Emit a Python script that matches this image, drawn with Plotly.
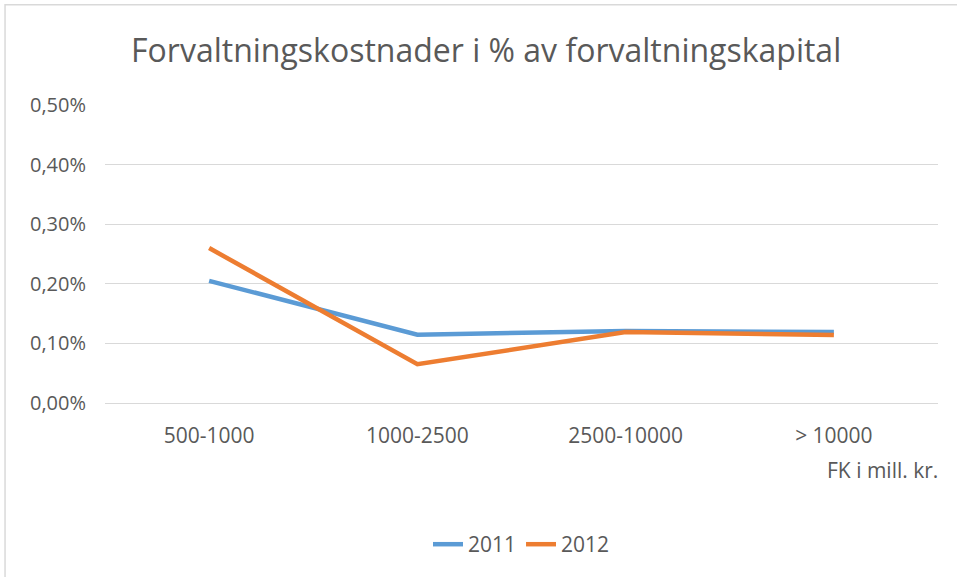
import plotly.graph_objects as go

kategorier = ["500-1000", "1000-2500", "2500-10000", "> 10000"]
ar_2011 = [0.00205, 0.001145, 0.00121, 0.00119]
ar_2012 = [0.0026, 0.00065, 0.00119, 0.00114]

tekst = "#595959"
font = "Open Sans"

fig = go.Figure()
fig.add_trace(go.Scatter(x=kategorier, y=ar_2011, name="2011", mode="lines",
                         line=dict(color="#5B9BD5", width=4.5)))
fig.add_trace(go.Scatter(x=kategorier, y=ar_2012, name="2012", mode="lines",
                         line=dict(color="#ED7D31", width=4.5)))

fig.update_layout(
    width=957, height=577,
    paper_bgcolor="white", plot_bgcolor="white",
    separators=",.",
    margin=dict(l=105, r=19, t=105, b=174),
    font=dict(family=font, color=tekst, size=20),
    title=dict(text="Forvaltningskostnader i % av forvaltningskapital",
               x=0.508, xanchor="center", y=0.912, yanchor="middle",
               font=dict(size=32, color=tekst, family=font)),
    legend=dict(orientation="h", x=0.5, xanchor="center", y=-0.475, yanchor="middle",
                font=dict(size=21, color=tekst)),
    showlegend=True,
)
fig.update_yaxes(range=[0, 0.005], dtick=0.001, tickformat=".2%",
                 gridcolor="#D9D9D9", gridwidth=1, zeroline=False,
                 showline=False, ticks="", ticklen=0, ticklabelstandoff=18,
                 tickfont=dict(size=20))
fig.update_xaxes(range=[-0.5, 3.5], showgrid=False, showline=True,
                 linecolor="#D9D9D9", ticks="", ticklabelstandoff=14,
                 tickfont=dict(size=21))
fig.add_annotation(text="FK i mill. kr.", xref="paper", yref="paper",
                   x=1.003, xanchor="right", y=-0.225, yanchor="middle",
                   showarrow=False, font=dict(size=21, color=tekst))
fig.add_shape(type="rect", xref="paper", yref="paper",
              x0=-0.12, x1=1.05, y0=-0.6, y1=1.336,
              line=dict(color="#D9D9D9", width=1.5), fillcolor="rgba(0,0,0,0)")

fig.write_html("out.html", config={"displayModeBar": False},
               post_script="document.body.style.margin='0';document.body.style.overflow='hidden';")
